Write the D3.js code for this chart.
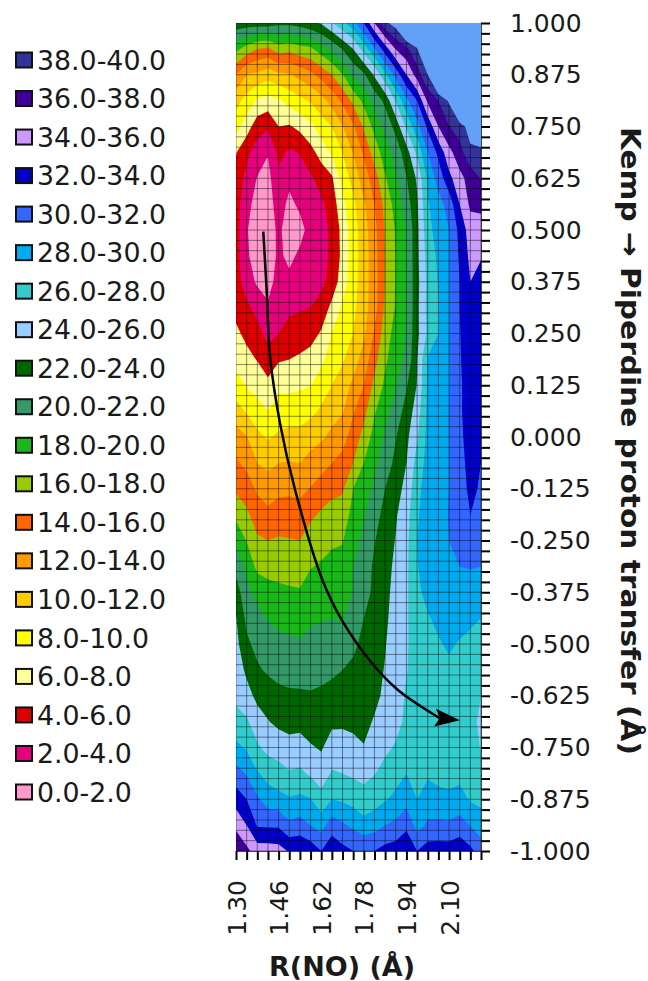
<!DOCTYPE html>
<html>
<head>
<meta charset="utf-8">
<title>Kemp piperidine proton transfer surface</title>
<script src="https://d3js.org/d3.v7.min.js"></script>
<style>
	body { margin: 0; background: #fff; }
	text { font-family: "DejaVu Sans", sans-serif; fill: #1a1a1a; }
	.axis line { stroke: #000; stroke-width: 2; }
	.axis path { stroke: #444; stroke-width: 1; }
	.axis text { font-size: 25px; }
	.grid line { stroke: #000; stroke-opacity: 0.45; stroke-width: 1; }
	.title { font-weight: bold; }
</style>
</head>
<body>
<script>
// band lower edges and colours, same order as the legend (bottom to top)
var levels = [0,2,4,6,8,10,12,14,16,18,20,22,24,26,28,30,32,34,36,38];
var bandColors = ['#ff99cc','#e6007e','#dd0000','#ffff99','#ffff00','#ffcc00','#ff9900','#ff6600','#99cc00','#19b819',
	'#339966','#006600','#99ccff','#33cccc','#00aaee','#3366ff','#0000cc','#cc99ff','#3f0099','#333399'];
var emptyColor = '#63a0f7';

var xTickLabels = ['1.30','1.46','1.62','1.78','1.94','2.10'];
var yTickLabels = ['1.000','0.875','0.750','0.625','0.500','0.375','0.250','0.125','0.000','-0.125','-0.250','-0.375','-0.500','-0.625','-0.750','-0.875','-1.000'];

// energy, one list per R(NO) column (1.30, 1.34 ... 2.22),
// each going from transfer = 1 down to -1 in steps of 0.0625
var energy = [
	[23.2,18.6,14,10.7,8.8,6.1,5.4,5,4.8,4.8,5,5.4,6.4,7.3,8.8,10.9,12.8,14.3,15.6,17.6,19.3,21.3,23,24.1,24.6,25.1,25.6,26.6,28.6,30.8,33.1,35.5,37.8],
	[23,17.1,12,9.2,6.9,4.5,3.4,2.4,2.1,2.2,2.9,4.5,5.5,6.6,7.8,9.8,12.1,13.5,15,16.4,17.9,19.5,20.6,21.5,22.4,23.6,24.7,26.3,27.7,29.8,32,34,36.5],
	[23,16,11.5,7.7,4.9,3,1.9,1.5,1.3,1.4,1.7,3.3,4.7,5.9,7.2,8.8,10.5,12,13.7,15,16.3,17.5,19.4,20.6,21.4,22.3,23.5,24.9,26.3,28.2,30.3,31.8,35],
	[23,15.6,10.8,7.2,4.3,2.1,1.4,1,0.7,0.8,1.2,2.3,3.4,4.9,6.5,8,9.8,11.5,13,14.5,16,17.3,18.7,19.9,20.8,21.7,23,24.1,25.4,27.3,29,31.7,35],
	[22.5,17,11.6,7.7,6,4.5,3.6,3,2.5,2.4,2.8,3.4,4,5.8,7.5,9,10.3,12,13.5,15,16.2,17.3,18.4,19.5,20.5,21.4,22.5,23.5,25.2,26.7,28.7,31.7,34.8],
	[22.5,16.6,11.8,8.7,5.8,3.7,2.5,1.5,0.8,1.5,2.5,3.5,5,6,7.5,9.1,10.6,12.1,13.6,15,16.1,17.1,18.3,19.4,20.4,21.3,22.3,23.4,24.6,26.2,28.2,30.4,33.8],
	[22.8,17.3,12.6,9.5,6.5,4.1,3.3,2.4,1.3,2.4,3.2,3.8,5,6.3,7.7,9.1,10.6,12,13.5,14.8,16,17,18.2,19.2,20.2,21.2,22.3,23.4,24.8,26.4,28.4,30.8,33.8],
	[23.5,17.6,13.5,10.2,7.5,5.3,3.7,3.1,2.8,3,3.4,4,5.3,6.7,7.9,9.5,11.2,12.7,14.1,15.6,17,17.9,18.8,19.7,20.6,21.2,22.2,23,24.2,25.7,28.1,30,33.2],
	[24.2,19,14.7,11.3,9,6.8,4.8,3.6,3,3.1,3.5,4.8,6.2,7.5,9.1,10.3,11.7,13.3,14.8,16.3,17.3,18.2,18.8,19.9,20.6,21.5,22.3,23.1,23.8,25,26.7,29.2,32],
	[25.8,20.4,16,12.7,10,8.3,5.7,4.9,4.5,4.5,4.8,6.5,8,9,10,11.2,12.5,14,15.5,16.7,17.7,18.6,19.4,20,20.7,21.6,22.7,23.6,24.9,26.2,28,31,33.5],
	[27.6,22.1,17.9,14.4,11.9,10,8.8,7.4,6.6,6.5,7,8.3,9,9.8,10.8,11.8,13.1,14.8,15.7,17,17.9,18.5,19,19.8,20.8,22,22.8,23.6,25,26,27.7,30.3,32.6],
	[29.3,24,20.4,16.5,13.7,12.1,10.7,9.5,9.1,9.1,9.2,9.5,10,11,12.5,13.8,15,16,18,18.6,19.2,20,20.1,21,21.6,22.4,23.2,23.5,24.6,25.7,27.3,29.6,32],
	[32,26.9,21.6,18.5,16.3,14.3,13,11.7,11.1,11,11.1,11.2,11.6,12.9,14,15.4,16.6,18,19.1,19.8,20.5,21.1,21.3,22,22.5,23,23.2,23.4,24.1,25.5,26.7,28.7,32],
	[36,29.8,24.3,20.7,18.6,16.9,15,14,13.4,13.2,13.1,13.2,14.2,15.3,16.5,17.8,18.8,19.5,20.4,21.3,21.9,22.3,22.4,22.9,23.2,23.4,23.5,24.2,24.9,25.9,27.2,29.2,32],
	[39.5,33,27.6,22.5,20.6,19,17.8,16.6,16.2,16.1,16.1,16.4,17,17.7,18.4,19.3,20.3,21,22,22.6,23,23.3,23.5,23.7,23.9,24.1,24.4,24.7,25.6,26.7,27.8,30,32.7],
	[41,36.1,30.7,26.2,22.7,20.8,19.6,18.8,18.2,18.1,18.1,18.2,18.8,19.1,19.9,21,21.9,22.5,23.2,23.8,24.1,24.4,24.6,24.7,24.9,25,25.2,25.4,26.2,27,28.6,30.4,33],
	[46,37.5,34,29.5,26.4,23.1,21.9,21,20.1,20,20,19.9,20.2,20.4,21.8,22.7,23.5,24,24.6,25.2,25.5,25.6,25.7,25.8,25.8,25.9,26.2,26.4,26.7,28,29.2,31.5,33.8],
	[46,39.8,36.9,32,29.3,26.5,24.3,23.7,23.5,23.5,23.4,23.5,23.5,23.9,24.1,25,25.8,26.8,27.5,27.8,28,27.9,27.5,27,26.9,26.8,26.8,26.8,27,27.3,28,29.3,32],
	[46,46,40,36.4,32.4,30,28.4,27.8,27.3,26.8,26.5,26.6,26.4,28.2,28.4,28.5,28.6,28.7,28.8,28.8,28.9,28.8,28.7,27.8,27.5,27.4,27.3,27.2,27.2,27.7,29,30.3,33],
	[46,46,46,38,36,32.5,30.8,29.2,28.9,28.4,28.1,28,28,29,29,29.1,29.1,29.2,29.2,29.2,29.2,29.2,29.2,28.5,27.8,27.5,27.5,27.3,27.2,27.4,28.6,30.4,33],
	[46,46,46,40.3,37.9,35.4,33.4,30.8,30,29.9,29.9,29.9,29.9,29.9,29.9,30,30,30,30,30.1,30,29.6,29.2,28.8,28.3,27.6,27.4,27.2,27.1,27.3,28.4,30.3,33],
	[46,46,46,46,39,37.2,35.4,34,32.6,32.3,32,32,31.9,31.8,31.7,31.7,31.6,31.4,31.2,31.1,30.6,30,29.5,28.9,27.8,27.5,27.3,27.1,27,27.4,28.8,30.8,33.5],
	[46,46,46,46,41,39.5,36.8,36.4,35,34.5,34,34,33.4,33.3,33.1,33,32.8,32.6,32.4,32,31,30.1,29.3,28.3,27.6,27.2,26.9,26.8,26.8,27,27.8,29.9,32.5],
	[46,46,46,46,42,39.5,38.1,36.7,34.8,34.2,33,32.8,32.8,32.6,32.5,32.5,32.4,32,31.8,31.3,30.6,30,29.4,28,27.2,26.8,26,25.5,25.9,26.8,27.5,29,31]
];

// reaction path arrow, in data units
var pathR = [1.4025,1.415,1.428,1.465,1.522,1.622,1.697,1.81,1.908,2.047,2.066];
var pathT = [0.496,0.355,0.194,0.034,-0.128,-0.341,-0.442,-0.546,-0.611,-0.672,-0.679];

var width = 648, height = 981;
var padding = {left: 236, right: 167, top: 23, bottom: 130};
var rStep = 0.04, tStep = 0.0625;
var rMin = 1.30, rMax = rMin + rStep * (energy.length - 1);

var svg = d3.select('body').append('svg')
	.attr('width', width)
	.attr('height', height)
	.style('display', 'block');

var xScale = d3.scaleLinear().domain([rMin, rMax]).range([padding.left, width - padding.right]);
var yScale = d3.scaleLinear().domain([1, -1]).range([padding.top, height - padding.bottom]);

svg.append('clipPath').attr('id', 'plotClip').append('rect')
	.attr('x', xScale(rMin)).attr('y', yScale(1))
	.attr('width', xScale(rMax) - xScale(rMin)).attr('height', yScale(-1) - yScale(1));

// contours wants one flat list, row by row
var nCols = energy.length, nRows = energy[0].length;
var flat = [];
for (var j = 0; j < nRows; j++) {
	for (var i = 0; i < nCols; i++) flat.push(energy[i][j]);
}
var contours = d3.contours().size([nCols, nRows]).thresholds(levels.slice(1).concat([40]))(flat);

var toPlot = d3.geoTransform({
	point: function(x, y) {
		this.stream.point(xScale(rMin + (x - 0.5) * rStep), yScale(1 - (y - 0.5) * tStep));
	}
});
var path = d3.geoPath(toPlot);

var plot = svg.append('g').attr('clip-path', 'url(#plotClip)');

plot.append('rect')
	.attr('x', xScale(rMin)).attr('y', yScale(1))
	.attr('width', xScale(rMax) - xScale(rMin)).attr('height', yScale(-1) - yScale(1))
	.attr('fill', bandColors[0]);

plot.selectAll('.band')
	.data(contours.filter(function(c) { return c.value < 40; }))
	.enter().append('path')
	.attr('class', 'band')
	.attr('d', path)
	.attr('fill', function(c) { return bandColors[levels.indexOf(c.value)]; });

// grid
var rTicks = d3.range(nCols).map(function(i) { return rMin + i * rStep; });
var tTicks = d3.range(81).map(function(i) { return 1 - i * 0.025; });
var grid = plot.append('g').attr('class', 'grid');
grid.selectAll('.v').data(rTicks).enter().append('line')
	.attr('x1', xScale).attr('x2', xScale)
	.attr('y1', yScale(1)).attr('y2', yScale(-1));
grid.selectAll('.h').data(tTicks).enter().append('line')
	.attr('y1', yScale).attr('y2', yScale)
	.attr('x1', xScale(rMin)).attr('x2', xScale(rMax));

// above 40 there is no band, the plot background shows and hides the grid
plot.append('path')
	.datum(contours.filter(function(c) { return c.value === 40; })[0])
	.attr('d', path)
	.attr('fill', emptyColor);

// axes
var xAxis = d3.axisBottom(xScale)
	.tickValues(rTicks)
	.tickSize(9)
	.tickFormat(function(d, i) { return i % 4 === 0 ? xTickLabels[i / 4] || '' : ''; });
var gx = svg.append('g').attr('class', 'axis')
	.attr('transform', 'translate(0,' + yScale(-1) + ')')
	.call(xAxis);
gx.selectAll('text')
	.attr('transform', 'rotate(-90)')
	.attr('text-anchor', 'end')
	.attr('x', -29)
	.attr('y', 0)
	.attr('dy', '0.36em');

var yAxis = d3.axisRight(yScale)
	.tickValues(tTicks)
	.tickSize(9)
	.tickFormat(function(d, i) { return i % 5 === 0 ? yTickLabels[i / 5] : ''; });
svg.append('g').attr('class', 'axis')
	.attr('transform', 'translate(' + xScale(rMax) + ',0)')
	.call(yAxis)
	.selectAll('text')
	.attr('x', 29);

svg.append('text').attr('class', 'title')
	.attr('x', 342).attr('y', 976)
	.attr('text-anchor', 'middle')
	.style('font-size', '27px')
	.text('R(NO) (Å)');

svg.append('text').attr('class', 'title')
	.attr('transform', 'translate(621,441) rotate(90)')
	.attr('text-anchor', 'middle')
	.attr('textLength', 628)
	.attr('lengthAdjust', 'spacingAndGlyphs')
	.style('font-size', '27px')
	.text('Kemp → Piperdine proton transfer (Å)');

// arrow along the reaction path
svg.append('marker').attr('id', 'head')
	.attr('markerUnits', 'userSpaceOnUse')
	.attr('markerWidth', 30).attr('markerHeight', 24)
	.attr('refX', 5).attr('refY', 10)
	.attr('orient', 6)
	.attr('viewBox', '0 0 30 20')
	.append('path')
	.attr('d', 'M0,1 L25,10 L0,19 L5,10 Z')
	.attr('fill', '#000');

var pathPoints = d3.zip(pathR, pathT);
svg.append('path')
	.datum(pathPoints)
	.attr('fill', 'none')
	.attr('stroke', '#000')
	.attr('stroke-width', 2.5)
	.attr('marker-end', 'url(#head)')
	.attr('d', d3.line()
		.x(function(d) { return xScale(d[0]); })
		.y(function(d) { return yScale(d[1]); })
		.curve(d3.curveCatmullRom));

// legend
var legendY = d3.scalePoint().domain(levels.slice().reverse()).range([60, 792]);
var legend = svg.selectAll('.legend')
	.data(levels)
	.enter().append('g')
	.attr('class', 'legend')
	.attr('transform', function(d) { return 'translate(0,' + legendY(d) + ')'; });
legend.append('rect')
	.attr('x', 16).attr('y', -7.5)
	.attr('width', 16).attr('height', 15)
	.attr('fill', function(d, i) { return bandColors[i]; })
	.attr('stroke', '#111')
	.attr('stroke-width', 2);
legend.append('text')
	.attr('x', 37).attr('dy', '0.36em')
	.style('font-size', '26.8px')
	.text(function(d) { return d.toFixed(1) + '-' + (d + 2).toFixed(1); });
</script>
</body>
</html>
